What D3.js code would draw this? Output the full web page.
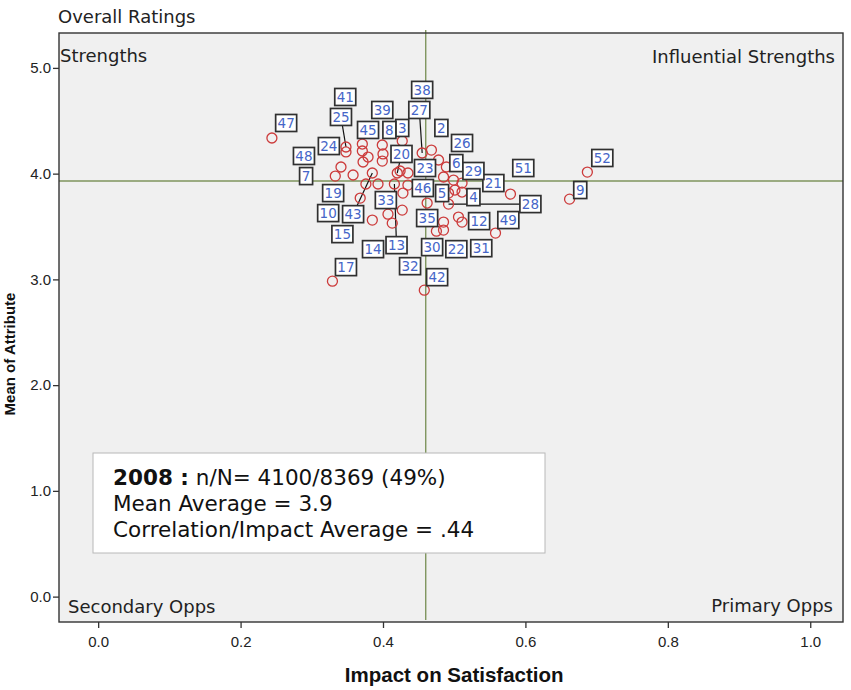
<!DOCTYPE html>
<html>
<head>
<meta charset="utf-8">
<script src="https://cdn.jsdelivr.net/npm/d3@7"></script>
<style>
  html, body { margin: 0; padding: 0; background: #ffffff; }
  svg { display: block; }
</style>
</head>
<body>
<svg id="chart" width="851" height="690"></svg>
<script>
// ---------------- DATA ----------------
const attributeIds = [1,2,3,4,5,6,7,8,9,10,11,12,13,14,15,16,17,18,19,20,21,22,23,24,25,26,
  27,28,29,30,31,32,33,34,35,36,37,38,39,40,41,42,43,44,45,46,47,48,49,50,51,52];
const impactValues = [0.358,0.468,0.427,0.511,0.501,0.485,0.333,0.400,0.662,0.368,0.372,0.511,0.416,
  0.413,0.385,0.399,0.329,0.379,0.376,0.420,0.511,0.485,0.435,0.348,0.348,0.489,0.455,0.492,0.499,
  0.475,0.506,0.407,0.393,0.492,0.462,0.424,0.485,0.478,0.399,0.427,0.371,0.458,0.385,0.428,0.371,
  0.435,0.244,0.341,0.558,0.485,0.579,0.687];
const meanValues = [3.987,4.223,4.309,3.826,3.845,3.968,3.977,4.186,3.759,3.769,4.110,3.542,3.902,
  3.532,3.561,4.119,2.983,4.157,3.902,4.006,3.911,3.542,4.006,4.205,4.252,4.063,4.195,3.712,3.939,
  3.456,3.589,3.617,3.902,3.816,3.722,4.025,3.797,4.129,4.271,3.655,4.280,2.898,4.006,3.816,4.214,
  3.892,4.337,4.063,3.438,3.466,3.807,4.015];
// label anchor positions (in axis units); null = label hidden
const labelImpact = [null,0.482,0.427,0.527,0.483,0.503,0.292,0.409,0.677,0.323,null,0.535,0.419,
  0.386,0.343,null,0.348,null,0.330,0.426,0.555,0.503,0.459,0.324,0.341,0.511,0.451,0.607,0.527,
  0.469,0.538,0.438,0.404,null,0.462,null,null,0.455,0.399,null,0.347,0.476,0.358,null,0.379,
  0.456,0.264,0.289,0.576,null,0.597,0.708];
const labelMean = [null,4.432,4.432,3.778,3.816,4.100,3.977,4.413,3.845,3.627,null,3.551,3.324,
  3.286,3.428,null,3.116,null,3.816,4.186,3.911,3.286,4.053,4.261,4.536,4.290,4.602,3.712,4.025,
  3.305,3.295,3.125,3.750,null,3.580,null,null,4.792,4.602,null,4.725,3.021,3.617,null,4.413,
  3.864,4.479,4.167,3.561,null,4.053,4.148];
const leaderLineIds = [13,20,25,27,28,43];
const xTicks = [0.0,0.2,0.4,0.6,0.8,1.0];
const yTicks = [0.0,1.0,2.0,3.0,4.0,5.0];
const impactAverage = 0.46;
const meanAverage = 3.93;
const titleText = "Overall Ratings";
const quadrantNames = ["Strengths","Influential Strengths","Secondary Opps","Primary Opps"];
const infoLines = [["2008 :", " n/N= 4100/8369 (49%)"], ["", "Mean Average = 3.9"], ["", "Correlation/Impact Average = .44"]];
const xTitle = "Impact on Satisfaction";
const yTitle = "Mean of Attribute";

// ---------------- LAYOUT ----------------
const svg = d3.select("#chart");
const L = 59, R = 843, T = 33, B = 622;
const x = d3.scaleLinear().domain([-0.055, 1.046]).range([L, R]);
const y = d3.scaleLinear().domain([-0.24, 5.33]).range([B, T]);

const textFont = "'DejaVu Sans', Verdana, sans-serif";
const axisFont = "'Liberation Sans', Arial, sans-serif";
const refColor = "#7f955e";

// plot background
svg.append("rect").attr("x", L).attr("y", T).attr("width", R - L).attr("height", B - T)
  .attr("fill", "#f0f0f0");

// reference lines
svg.append("line").attr("x1", L).attr("x2", R).attr("y1", y(meanAverage)).attr("y2", y(meanAverage))
  .attr("stroke", refColor).attr("stroke-width", 1.4);
svg.append("line").attr("x1", x(impactAverage)).attr("x2", x(impactAverage)).attr("y1", T - 3).attr("y2", B - 2)
  .attr("stroke", refColor).attr("stroke-width", 1.4);

// frame
svg.append("rect").attr("x", L).attr("y", T).attr("width", R - L).attr("height", B - T)
  .attr("fill", "none").attr("stroke", "#333").attr("stroke-width", 1.4);

// axes
const xAxis = svg.append("g").attr("transform", `translate(0,${B})`)
  .call(d3.axisBottom(x).tickValues(xTicks).tickFormat(d3.format(".1f")).tickSize(6).tickPadding(8));
const yAxis = svg.append("g").attr("transform", `translate(${L},0)`)
  .call(d3.axisLeft(y).tickValues(yTicks).tickFormat(d3.format(".1f")).tickSize(6).tickPadding(2));
[xAxis, yAxis].forEach(g => {
  g.select(".domain").remove();
  g.attr("font-size", null);
  g.selectAll(".tick line").attr("stroke", "#333").attr("stroke-width", 1.3);
  g.selectAll(".tick text").attr("fill", "#222").style("font-family", axisFont).style("font-size", "15px");
});

// titles
svg.append("text").attr("x", 58).attr("y", 23).text(titleText)
  .style("font-family", textFont).style("font-size", "18px").attr("fill", "#222");
svg.append("text").attr("x", x(0.50)).attr("y", 682).attr("text-anchor", "middle").text(xTitle)
  .style("font-family", axisFont).style("font-size", "20.5px").style("font-weight", "bold").attr("fill", "#111");
svg.append("text").attr("transform", `translate(15,${354}) rotate(-90)`).attr("text-anchor", "middle").text(yTitle)
  .style("font-family", axisFont).style("font-size", "15px").style("font-weight", "bold").attr("fill", "#111");

// quadrant names
const qpos = [
  {x: L + 1, y: T + 29, a: "start"},
  {x: R - 8, y: T + 30, a: "end"},
  {x: L + 9, y: B - 9, a: "start"},
  {x: R - 10, y: B - 10, a: "end"}
];
quadrantNames.forEach((q, i) => {
  svg.append("text").attr("x", qpos[i].x).attr("y", qpos[i].y).attr("text-anchor", qpos[i].a).text(q)
    .style("font-family", textFont).style("font-size", "18px").attr("fill", "#222");
});

// points data
const pts = attributeIds.map((id, i) => ({
  id, ix: impactValues[i], m: meanValues[i], lx: labelImpact[i], lm: labelMean[i]
}));

// leader lines
svg.append("g").selectAll("line")
  .data(pts.filter(d => leaderLineIds.includes(d.id) && d.lx !== null))
  .join("line")
  .attr("x1", d => x(d.lx)).attr("y1", d => y(d.lm))
  .attr("x2", d => x(d.ix)).attr("y2", d => y(d.m))
  .attr("stroke", "#111").attr("stroke-width", 1.2);

// circles
svg.append("g").selectAll("circle").data(pts).join("circle")
  .attr("cx", d => x(d.ix)).attr("cy", d => y(d.m)).attr("r", 5)
  .attr("fill", "none").attr("stroke", "#cc3b3b").attr("stroke-width", 1.3);

// labels
const lg = svg.append("g");
pts.filter(d => d.lx !== null).forEach(d => {
  const s = String(d.id);
  const w = s.length === 1 ? 13 : 21;
  const h = 17;
  const cx = x(d.lx), cy = y(d.lm);
  const g = lg.append("g");
  g.append("rect").attr("x", cx - w / 2).attr("y", cy - h / 2).attr("width", w).attr("height", h)
    .attr("fill", "#ffffff").attr("stroke", "#303030").attr("stroke-width", 1.7);
  g.append("text").attr("x", cx).attr("y", cy + 5).attr("text-anchor", "middle").text(s)
    .style("font-family", textFont).style("font-size", "13.5px").attr("fill", "#4666c8");
});

// info box
svg.append("rect").attr("x", 93).attr("y", 453).attr("width", 452).attr("height", 100)
  .attr("fill", "#ffffff").attr("stroke", "#b8b8b8").attr("stroke-width", 1);
infoLines.forEach((ln, i) => {
  const t = svg.append("text").attr("x", 113).attr("y", 485 + i * 26)
    .style("font-family", textFont).style("font-size", "21.5px").attr("fill", "#111");
  if (ln[0]) t.append("tspan").style("font-weight", "bold").text(ln[0]);
  t.append("tspan").text(ln[1]);
});
</script>
</body>
</html>
